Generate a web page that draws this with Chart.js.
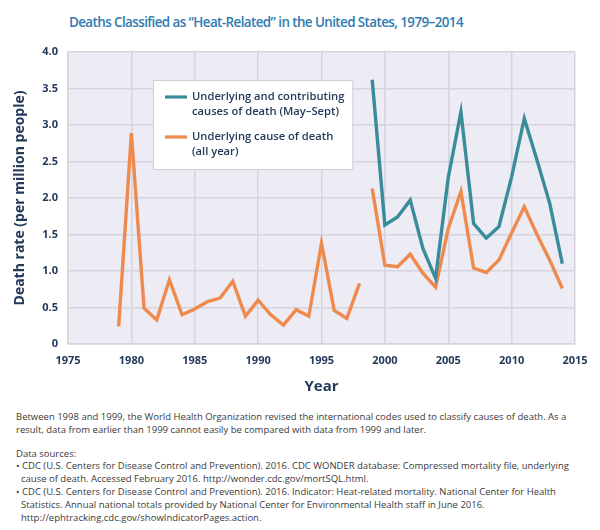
<!DOCTYPE html>
<html>
<head>
<meta charset="utf-8">
<script src="https://cdn.jsdelivr.net/npm/chart.js@4.4.1/dist/chart.umd.min.js"></script>
<style>
  html, body { margin: 0; padding: 0; background: #ffffff; }
  body { width: 600px; height: 530px; position: relative; overflow: hidden; font-family: "Open Sans", "Noto Sans", sans-serif; }
  #title { position: absolute; left: 69px; top: 13px; font-size: 13.4px; letter-spacing: -0.58px; font-weight: 600; color: #2f7bb0; white-space: nowrap; }
  #wrap { position: absolute; left: 0; top: 0; width: 600px; height: 400px; }
  #notes { position: absolute; left: 16px; top: 411px; font-size: 9.5px; line-height: 12.8px; color: #3a3a3a; white-space: nowrap; }
  #notes .gap { height: 11px; }
  #notes .ind { padding-left: 5px; }
</style>
</head>
<body>
<div id="title">Deaths Classified as “Heat-Related” in the United States, 1979–2014</div>
<div id="wrap"><canvas id="c" width="600" height="400"></canvas></div>
<div id="notes">
  <div>Between 1998 and 1999, the World Health Organization revised the international codes used to classify causes of death. As a</div>
  <div>result, data from earlier than 1999 cannot easily be compared with data from 1999 and later.</div>
  <div class="gap"></div>
  <div>Data sources:</div>
  <div>• CDC (U.S. Centers for Disease Control and Prevention). 2016. CDC WONDER database: Compressed mortality file, underlying</div>
  <div class="ind">cause of death. Accessed February 2016. http://wonder.cdc.gov/mortSQL.html.</div>
  <div>• CDC (U.S. Centers for Disease Control and Prevention). 2016. Indicator: Heat-related mortality. National Center for Health</div>
  <div class="ind">Statistics. Annual national totals provided by National Center for Environmental Health staff in June 2016.</div>
  <div class="ind">http://ephtracking.cdc.gov/showIndicatorPages.action.</div>
</div>
<script>
// ---- data ----
const yearsEarly = [1979,1980,1981,1982,1983,1984,1985,1986,1987,1988,1989,1990,1991,1992,1993,1994,1995,1996,1997,1998];
const underlyingEarly = [0.24,2.89,0.49,0.33,0.88,0.40,0.48,0.58,0.63,0.86,0.38,0.60,0.40,0.26,0.47,0.38,1.38,0.46,0.35,0.83];
const yearsLate = [1999,2000,2001,2002,2003,2004,2005,2006,2007,2008,2009,2010,2011,2012,2013,2014];
const underlyingLate = [2.13,1.08,1.06,1.23,0.97,0.78,1.58,2.09,1.04,0.98,1.15,1.52,1.88,1.50,1.15,0.76];
const contributingLate = [3.62,1.63,1.74,1.97,1.31,0.90,2.28,3.18,1.65,1.45,1.61,2.29,3.09,2.52,1.93,1.10];
const seriesNames = ["Underlying and contributing causes of death (May–Sept)", "Underlying cause of death (all year)"];
const legendLines = [["Underlying and contributing", "causes of death (May–Sept)"], ["Underlying cause of death", "(all year)"]];
const xTicks = [1975,1980,1985,1990,1995,2000,2005,2010,2015];
const yTicks = [0,0.5,1.0,1.5,2.0,2.5,3.0,3.5,4.0];

const TEAL = "#3a8c9b";
const ORANGE = "#ef8a4f";
const INK = "#243a5a";
const GRID = "#d5d4de";

const pts = (xs, ys) => xs.map((x, i) => ({x: x, y: ys[i]}));

const bgPlugin = {
  id: "plotBg",
  beforeDraw(chart) {
    const {ctx, chartArea: a} = chart;
    ctx.save();
    ctx.fillStyle = "#edecf4";
    ctx.fillRect(a.left, a.top, a.right - a.left, a.bottom - a.top);
    ctx.restore();
  }
};

const legendPlugin = {
  id: "boxLegend",
  afterDatasetsDraw(chart) {
    const {ctx, chartArea: a} = chart;
    const left = a.left + 85, top = a.top + 28;
    ctx.save();
    ctx.font = "600 11.2px 'Open Sans', 'Noto Sans', sans-serif";
    let maxW = 0;
    legendLines.forEach(ls => ls.forEach(l => { maxW = Math.max(maxW, ctx.measureText(l).width); }));
    const textX = left + 39;
    const w = (textX - left) + maxW + 8;
    const h = 89;
    ctx.fillStyle = "#ffffff";
    ctx.fillRect(left, top, w, h);
    ctx.strokeStyle = "#d0d0d8";
    ctx.lineWidth = 1;
    ctx.strokeRect(left + 0.5, top + 0.5, w, h);
    const colors = [chart.data.datasets[0].borderColor, chart.data.datasets[1].borderColor];
    const rowY = [top + 17, top + 57];
    legendLines.forEach((ls, i) => {
      ctx.strokeStyle = colors[i];
      ctx.lineWidth = 3.2;
      ctx.beginPath();
      ctx.moveTo(left + 12, rowY[i]);
      ctx.lineTo(left + 34, rowY[i]);
      ctx.stroke();
      ctx.fillStyle = INK;
      ctx.textBaseline = "middle";
      ctx.textAlign = "left";
      ls.forEach((l, j) => ctx.fillText(l, textX, rowY[i] + j * 15));
    });
    ctx.restore();
  }
};

new Chart(document.getElementById("c"), {
  type: "line",
  data: {
    datasets: [
      { label: seriesNames[0], data: pts(yearsLate, contributingLate), borderColor: TEAL, borderWidth: 3.4, pointRadius: 0, tension: 0, fill: false },
      { label: seriesNames[1], data: pts(yearsLate, underlyingLate), borderColor: ORANGE, borderWidth: 3.4, pointRadius: 0, tension: 0, fill: false },
      { label: seriesNames[1] + " (1979–1998)", data: pts(yearsEarly, underlyingEarly), borderColor: ORANGE, borderWidth: 3.4, pointRadius: 0, tension: 0, fill: false }
    ]
  },
  options: {
    responsive: false,
    animation: false,
    layout: { padding: { top: 52, right: 25, left: 0, bottom: 0 } },
    plugins: { legend: { display: false }, tooltip: { enabled: false }, title: { display: false } },
    scales: {
      x: {
        type: "linear",
        min: xTicks[0], max: xTicks[xTicks.length - 1],
        afterBuildTicks: s => { s.ticks = xTicks.map(v => ({value: v})); },
        afterFit: s => { s.height = 56; },
        grid: { color: GRID, lineWidth: 1.5, drawTicks: false },
        border: { display: true, color: GRID, width: 1.5 },
        ticks: { color: INK, font: { family: "'Open Sans', 'Noto Sans', sans-serif", size: 11, weight: "bold" }, padding: 10, maxRotation: 0, callback: v => String(v) },
        title: { display: true, text: "Year", color: INK, font: { family: "'Open Sans', 'Noto Sans', sans-serif", size: 15, weight: "bold" }, padding: { top: 0, bottom: 4 } }
      },
      y: {
        min: 0, max: 4,
        afterBuildTicks: s => { s.ticks = yTicks.map(v => ({value: v})); },
        afterFit: s => { s.width = 68; },
        grid: { color: GRID, lineWidth: 1.5, drawTicks: false },
        border: { display: true, color: GRID, width: 1.5 },
        ticks: { color: INK, font: { family: "'Open Sans', 'Noto Sans', sans-serif", size: 11, weight: "bold" }, padding: 10, callback: v => (v === 0 ? "0" : v.toFixed(1)) },
        title: { display: true, text: "Death rate (per million people)", color: INK, font: { family: "'Open Sans', 'Noto Sans', sans-serif", size: 14, weight: "bold" }, padding: { top: 12, bottom: 0 } }
      }
    }
  },
  plugins: [bgPlugin, legendPlugin]
});
</script>
</body>
</html>
